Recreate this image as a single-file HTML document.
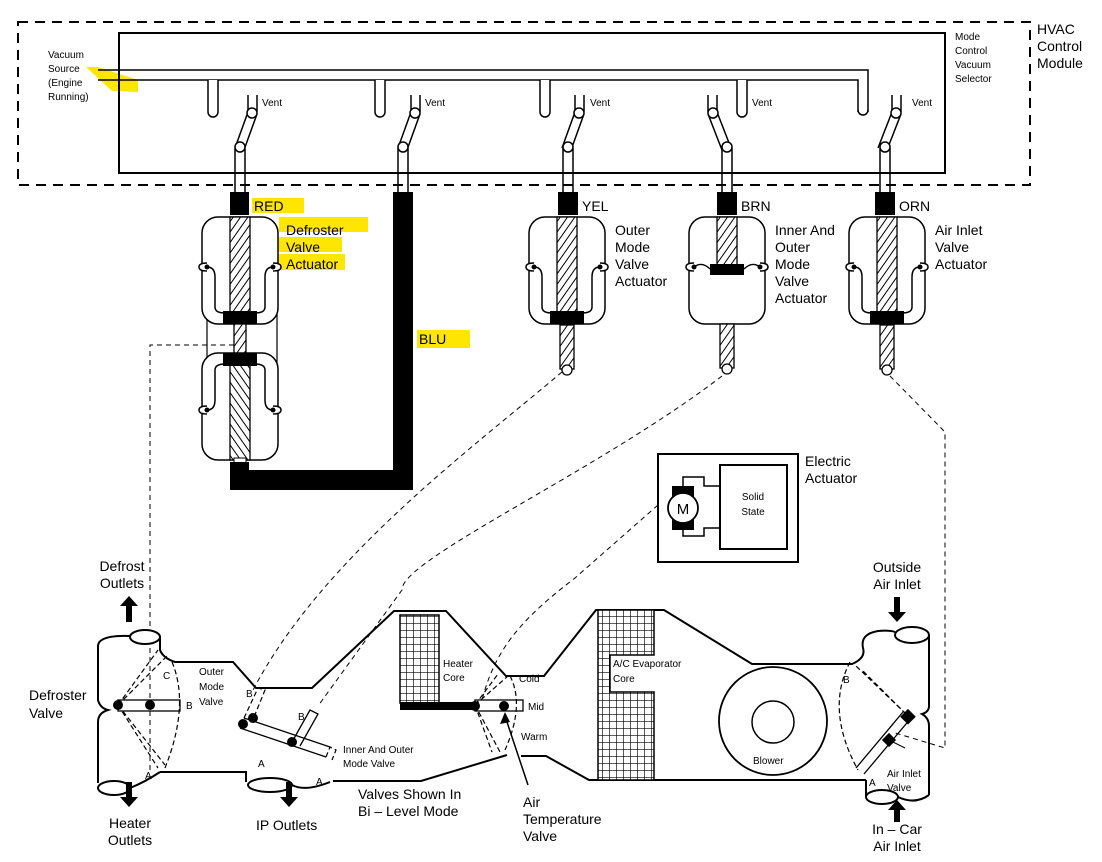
<!DOCTYPE html>
<html><head><meta charset="utf-8"><style>
html,body{margin:0;padding:0;background:#fff}
svg{display:block}
text{font-family:"Liberation Sans",Arial,sans-serif;fill:#000}
</style></head><body>
<svg width="1102" height="862" viewBox="0 0 1102 862" xmlns="http://www.w3.org/2000/svg">
<defs>
<pattern id="h" width="6" height="6" patternUnits="userSpaceOnUse" patternTransform="rotate(35)">
<rect width="6" height="6" fill="#fff"/><line x1="0" y1="0" x2="0" y2="6" stroke="#000" stroke-width="2"/></pattern>
<pattern id="g" width="7" height="7" patternUnits="userSpaceOnUse">
<rect width="7" height="7" fill="#fff"/><path d="M0 0H7M0 0V7" stroke="#000" stroke-width="1.3"/></pattern>
<g id="act">
<rect x="-38" y="0" width="76" height="107" rx="16" fill="#fff" stroke="#000" stroke-width="1.5"/>
<path d="M-33 46 q-8 0 -8 4 q0 4 8 4 M33 46 q8 0 8 4 q0 4 -8 4" fill="#fff" stroke="#000" stroke-width="1.5"/>
<path d="M-33 50 q8 0 8 10 v30 q0 6 10 6 M33 50 q-8 0 -8 10 v30 q0 6 -10 6" fill="none" stroke="#000" stroke-width="1.5"/>
<circle cx="-33" cy="50" r="2.5"/><circle cx="33" cy="50" r="2.5"/>
<rect x="-10" y="0" width="20" height="96" fill="url(#h)" stroke="#000" stroke-width="1.3"/>
<rect x="-17" y="94" width="34" height="13"/>
</g>
<g id="shaft">
<rect x="-7" y="0" width="14" height="44" fill="url(#h)" stroke="#000" stroke-width="1.3"/>
<circle cx="0" cy="45" r="5" fill="#fff" stroke="#000" stroke-width="1.3"/>
</g>
</defs>

<!-- highlights -->
<g fill="#ffe600">
<path d="M86 67 L98 67 L138 80 L138 92 L112 91 Z"/>
<rect x="252" y="198" width="52" height="15"/>
<rect x="279" y="217" width="89" height="15"/>
<rect x="277" y="237" width="65" height="15"/>
<rect x="277" y="254" width="68" height="16"/>
<rect x="417" y="330" width="53" height="18"/>
</g>

<!-- control module -->
<rect x="18" y="22" width="1012" height="163" fill="none" stroke="#000" stroke-width="2" stroke-dasharray="10,7"/>
<rect x="119" y="33" width="826" height="140" fill="none" stroke="#000" stroke-width="2"/>
<path d="M98 70 H868 V112 M98 80 H858 V112" fill="none" stroke="#000" stroke-width="1.5"/>
<path d="M858 110 a5 5 0 0 0 10 0" fill="none" stroke="#000" stroke-width="1.5"/>
<text font-size="10"><tspan x="48" y="58">Vacuum</tspan><tspan x="48" y="72">Source</tspan><tspan x="48" y="86">(Engine</tspan><tspan x="48" y="100">Running)</tspan></text>
<text font-size="10"><tspan x="955" y="40">Mode</tspan><tspan x="955" y="54">Control</tspan><tspan x="955" y="68">Vacuum</tspan><tspan x="955" y="82">Selector</tspan></text>
<text font-size="14"><tspan x="1037" y="34">HVAC</tspan><tspan x="1037" y="51">Control</tspan><tspan x="1037" y="68">Module</tspan></text>

<g fill="#fff" stroke="#000" stroke-width="1.5">
<path d="M208 80 V112 a5 5 0 0 0 10 0 V80"/>
<path d="M375 80 V112 a5 5 0 0 0 10 0 V80"/>
<path d="M540 80 V112 a5 5 0 0 0 10 0 V80"/>
<path d="M737 80 V112 a5 5 0 0 0 10 0 V80"/>

<path d="M248 95 V112 M257 95 V112"/><path d="M235 148 L248 112 M244 150 L257 114"/><circle cx="252" cy="113" r="5"/><path d="M235 148 V193 M245 148 V193"/><circle cx="240" cy="147" r="5"/>
<path d="M411 95 V112 M420 95 V112"/><path d="M398 148 L411 112 M407 150 L420 114"/><circle cx="415" cy="113" r="5"/><path d="M398 148 V193 M408 148 V193"/><circle cx="403" cy="147" r="5"/>
<path d="M575 95 V112 M584 95 V112"/><path d="M562 148 L575 112 M571 150 L584 114"/><circle cx="579" cy="113" r="5"/><path d="M563 148 V193 M573 148 V193"/><circle cx="568" cy="147" r="5"/>
<path d="M708 95 V112 M717 95 V112"/><path d="M731 148 L717 112 M722 150 L708 114"/><circle cx="713" cy="113" r="5"/><path d="M722 148 V193 M732 148 V193"/><circle cx="727" cy="147" r="5"/>
<path d="M892 95 V112 M901 95 V112"/><path d="M878 148 L892 112 M887 150 L901 114"/><circle cx="896" cy="113" r="5"/><path d="M880 148 V193 M890 148 V193"/><circle cx="885" cy="147" r="5"/>
</g>
<g font-size="10"><text x="262" y="106">Vent</text><text x="425" y="106">Vent</text><text x="590" y="106">Vent</text><text x="752" y="106">Vent</text><text x="912" y="106">Vent</text></g>

<rect x="230" y="192" width="19" height="23"/>
<rect x="558" y="192" width="20" height="23"/>
<rect x="717" y="192" width="20" height="23"/>
<rect x="875" y="192" width="20" height="23"/>
<g font-size="14"><text x="254" y="211">RED</text><text x="582" y="211">YEL</text><text x="741" y="211">BRN</text><text x="899" y="211">ORN</text><text x="419" y="344">BLU</text></g>

<rect x="207" y="258" width="70" height="150" fill="none" stroke="#000" stroke-width="1.2"/>
<use href="#act" x="240" y="217"/>
<rect x="234" y="324" width="12" height="40" fill="url(#h)" stroke="#000" stroke-width="1.3"/>
<g transform="translate(240,460) scale(1,-1)"><use href="#act"/></g>
<rect x="234" y="458" width="12" height="6" fill="#fff" stroke="#000"/>
<path d="M230 462 H249 V470 H393 V192 H413 V490 H230 Z"/>
<text font-size="14"><tspan x="286" y="235">Defroster</tspan><tspan x="286" y="252">Valve</tspan><tspan x="286" y="269">Actuator</tspan></text>

<use href="#act" x="567" y="217"/><use href="#shaft" x="567" y="325"/>
<text font-size="14"><tspan x="615" y="235">Outer</tspan><tspan x="615" y="252">Mode</tspan><tspan x="615" y="269">Valve</tspan><tspan x="615" y="286">Actuator</tspan></text>
<rect x="689" y="217" width="76" height="107" rx="16" fill="#fff" stroke="#000" stroke-width="1.5"/>
<path d="M694 263 q-8 0 -8 4 q0 4 8 4 M760 263 q8 0 8 4 q0 4 -8 4" fill="#fff" stroke="#000" stroke-width="1.5"/>
<path d="M694 267 q8 -6 16 2 M760 267 q-8 -6 -16 2" fill="none" stroke="#000" stroke-width="1.3"/>
<circle cx="694" cy="267" r="2.5"/><circle cx="760" cy="267" r="2.5"/>
<rect x="717" y="217" width="20" height="48" fill="url(#h)" stroke="#000" stroke-width="1.3"/>
<rect x="710" y="264" width="34" height="11"/>
<use href="#shaft" x="727" y="324"/>
<text font-size="14"><tspan x="775" y="235">Inner And</tspan><tspan x="775" y="252">Outer</tspan><tspan x="775" y="269">Mode</tspan><tspan x="775" y="286">Valve</tspan><tspan x="775" y="303">Actuator</tspan></text>
<use href="#act" x="887" y="217"/><use href="#shaft" x="887" y="325"/>
<text font-size="14"><tspan x="935" y="235">Air Inlet</tspan><tspan x="935" y="252">Valve</tspan><tspan x="935" y="269">Actuator</tspan></text>

<rect x="658" y="454" width="140" height="108" fill="none" stroke="#000" stroke-width="2"/>
<rect x="720" y="465" width="67" height="84" fill="none" stroke="#000" stroke-width="2"/>
<path d="M683 494 V477 H704 V486 H720 M683 522 V536 H704 V528 H720" fill="none" stroke="#000" stroke-width="1.5"/>
<rect x="672" y="486" width="22" height="44"/>
<circle cx="683" cy="508" r="15" fill="#fff" stroke="#000" stroke-width="1.8"/>
<text x="683" y="514" font-size="15" text-anchor="middle">M</text>
<text font-size="10" text-anchor="middle"><tspan x="753" y="500">Solid</tspan><tspan x="753" y="515">State</tspan></text>
<text font-size="14"><tspan x="805" y="466">Electric</tspan><tspan x="805" y="483">Actuator</tspan></text>

<g fill="none" stroke="#000" stroke-width="1" stroke-dasharray="5,4">
<path d="M234 345 H150 V770"/>
<path d="M562 372 C470 450 320 560 252 692"/>
<path d="M722 376 C600 470 400 560 402 590 L318 706"/>
<path d="M658 505 L575 578 C520 620 495 650 482 700"/>
<path d="M890 376 L945 432 V748 L892 732"/>
</g>

<g fill="none" stroke="#000" stroke-width="2">
<path d="M98 645 Q100 635 130 636 M98 645 V700 Q100 708 108 710 Q98 713 98 722 V783"/>
<ellipse cx="145" cy="637" rx="15" ry="7" fill="#fff"/>
<path d="M160 637 V650 Q163 658 175 662 H233 L256 688 H312 L394 611 H446 L506 676 H544 L596 610 H664 L752 664 H852 Q866 658 863 648 Q860 634 878 631 Q890 630 895 632"/>
<ellipse cx="912" cy="635" rx="17" ry="8" fill="#fff"/>
<path d="M929 635 V706 Q929 712 922 714 Q929 718 929 726 V795"/>
<path d="M866 780 V797 M866 780 H589 L546 756 H521"/>
<ellipse cx="882" cy="797" rx="16" ry="7" fill="#fff"/>
<path d="M898 797 Q915 805 929 795"/>
<path d="M507 755 L421 781 H333 M160 772 H246 V782"/>
<ellipse cx="270" cy="785" rx="22" ry="7" fill="#fff"/>
<path d="M292 785 Q305 792 330 782"/>
<ellipse cx="114" cy="788" rx="16" ry="7" fill="#fff"/>
<path d="M130 788 Q145 782 160 772"/>
</g>
<rect x="400" y="615" width="39" height="88" fill="url(#g)" stroke="#000" stroke-width="1.5"/>
<rect x="400" y="702" width="75" height="8"/>
<path d="M598 610 H654 V655 H610 V692 H654 V780 H598 Z" fill="url(#g)" stroke="#000" stroke-width="1.5"/>
<circle cx="773" cy="721" r="54" fill="#fff" stroke="#000" stroke-width="1.8"/>
<circle cx="773" cy="722" r="21" fill="none" stroke="#000" stroke-width="1.5"/>

<g fill="none" stroke="#000" stroke-width="1.3">
<rect x="118" y="700" width="62" height="11" fill="#fff"/>
<rect x="475" y="700" width="48" height="11" fill="#fff"/>
<path d="M240 728 L326 757 M244 718 L330 747" />
<path d="M292 742 L310 710 L318 714 L300 746"/>
<path d="M856 768 L903 712 M864 774 L911 718"/>
</g>
<g fill="none" stroke="#000" stroke-width="1.2" stroke-dasharray="5,3">
<path d="M118 705 L158 650 M118 705 L168 655 M118 705 L158 768 M118 705 L165 765 M172 662 Q190 705 165 768"/>
<path d="M244 718 L258 688 L265 690 L252 722 M326 757 L330 747 L336 750 L332 760"/>
<path d="M475 705 L508 676 M475 705 L498 674 M475 705 L500 752 M475 705 L492 752 M510 676 Q525 705 505 750"/>
<path d="M906 714 L855 665 M912 720 L862 670 M850 662 Q825 710 858 770"/>
</g>
<g fill="#000"><circle cx="118" cy="705" r="5"/><circle cx="150" cy="705" r="5"/>
<circle cx="475" cy="706" r="5"/><circle cx="504" cy="706" r="5"/>
<circle cx="243" cy="724" r="5"/><circle cx="292" cy="742" r="5"/><circle cx="253" cy="718" r="5"/>
<rect x="903" y="711" width="11" height="11" transform="rotate(45 908 716)"/><rect x="884" y="735" width="10" height="10" transform="rotate(45 889 740)"/></g>
<path d="M528 785 L505 716" stroke="#000" stroke-width="1.5"/><path d="M505 712 L500 724 L510 722 Z"/>
<path d="M905 748 L893 742" stroke="#000" stroke-width="1"/>

<g fill="#000">
<path d="M126 622 V606 H120 L129 596 L138 606 H132 V622 Z"/>
<path d="M126 782 V797 H120 L129 807 L138 797 H132 V782 Z"/>
<path d="M286 782 V797 H280 L289 807 L298 797 H292 V782 Z"/>
<path d="M894 597 V612 H888 L897 622 L906 612 H900 V597 Z"/>
<path d="M894 822 V810 H888 L897 800 L906 810 H900 V822 Z"/>
</g>

<g font-size="14">
<text text-anchor="middle"><tspan x="122" y="571">Defrost</tspan><tspan x="122" y="588">Outlets</tspan></text>
<text><tspan x="29" y="700">Defroster</tspan><tspan x="29" y="718">Valve</tspan></text>
<text text-anchor="middle"><tspan x="130" y="828">Heater</tspan><tspan x="130" y="845">Outlets</tspan></text>
<text x="256" y="830">IP Outlets</text>
<text><tspan x="358" y="799">Valves Shown In</tspan><tspan x="358" y="816">Bi – Level Mode</tspan></text>
<text><tspan x="523" y="807">Air</tspan><tspan x="523" y="824">Temperature</tspan><tspan x="523" y="841">Valve</tspan></text>
<text text-anchor="middle"><tspan x="897" y="572">Outside</tspan><tspan x="897" y="589">Air Inlet</tspan></text>
<text text-anchor="middle"><tspan x="897" y="834">In – Car</tspan><tspan x="897" y="851">Air Inlet</tspan></text>
</g>
<g font-size="10">
<text><tspan x="199" y="675">Outer</tspan><tspan x="199" y="690">Mode</tspan><tspan x="199" y="705">Valve</tspan></text>
<text><tspan x="343" y="753">Inner And Outer</tspan><tspan x="343" y="767">Mode Valve</tspan></text>
<text><tspan x="443" y="667">Heater</tspan><tspan x="443" y="681">Core</tspan></text>
<text x="519" y="682">Cold</text><text x="528" y="710">Mid</text><text x="521" y="740">Warm</text>
<text><tspan x="613" y="667">A/C Evaporator</tspan><tspan x="613" y="682">Core</tspan></text>
<text x="753" y="764">Blower</text>
<text><tspan x="887" y="777">Air Inlet</tspan><tspan x="887" y="791">Valve</tspan></text>
<text x="163" y="679">C</text><text x="186" y="709">B</text><text x="145" y="779">A</text>
<text x="246" y="697">B</text><text x="298" y="720">B</text><text x="258" y="767">A</text><text x="316" y="785">A</text>
<text x="843" y="683">B</text><text x="869" y="786">A</text>
</g>
</svg>
</body></html>
